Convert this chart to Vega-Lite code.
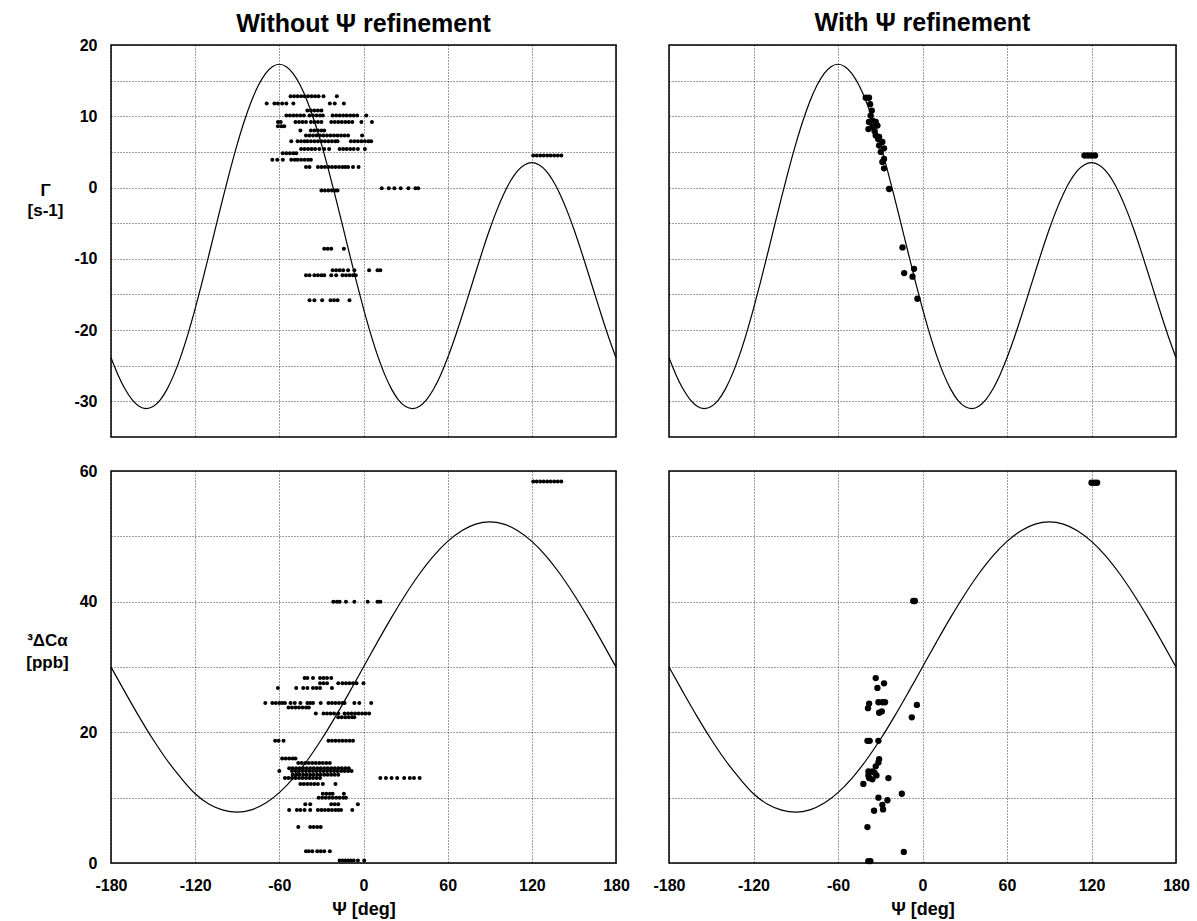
{
 "$schema": "https://vega.github.io/schema/vega-lite/v6.json",
 "background": "white",
 "padding": {"left": 25, "top": 10, "right": 5, "bottom": 2},
 "config": {
  "font": "Liberation Sans",
  "view": {"stroke": "black", "strokeWidth": 1.5},
  "axis": {"labelFont": "Liberation Sans", "labelFontWeight": "bold", "labelFontSize": 16, "labelColor": "black", "labelFlush": false, "labelOverlap": false, "gridColor": "black", "gridDash": [1, 2], "gridWidth": 1, "gridOpacity": 0.75, "domain": false, "ticks": false, "titleFont": "Liberation Sans", "titleFontWeight": "bold", "titleFontSize": 17, "titleColor": "black"},
  "title": {"font": "Liberation Sans", "fontSize": 25, "fontWeight": "bold", "color": "black", "anchor": "middle", "offset": 9}
 },
 "datasets": {
  "curveG": [
   {"psi": -180, "v": -23.89}, {"psi": -175, "v": -26.29}, {"psi": -170, "v": -28.27}, {"psi": -165, "v": -29.75}, {"psi": -160, "v": -30.68}, {"psi": -155, "v": -31.01}, {"psi": -150, "v": -30.72}, {"psi": -145, "v": -29.81}, {"psi": -140, "v": -28.28}, {"psi": -135, "v": -26.18}, {"psi": -130, "v": -23.55}, {"psi": -125, "v": -20.46}, {"psi": -120, "v": -16.99}, {"psi": -115, "v": -13.24}, {"psi": -110, "v": -9.29}, {"psi": -105, "v": -5.28}, {"psi": -100, "v": -1.3}, {"psi": -95, "v": 2.52}, {"psi": -90, "v": 6.1}, {"psi": -85, "v": 9.31}, {"psi": -80, "v": 12.07}, {"psi": -75, "v": 14.31}, {"psi": -70, "v": 15.96}, {"psi": -65, "v": 16.96}, {"psi": -60, "v": 17.3}, {"psi": -55, "v": 16.96}, {"psi": -50, "v": 15.96}, {"psi": -45, "v": 14.31}, {"psi": -40, "v": 12.07}, {"psi": -35, "v": 9.31}, {"psi": -30, "v": 6.1}, {"psi": -25, "v": 2.52}, {"psi": -20, "v": -1.3}, {"psi": -15, "v": -5.28}, {"psi": -10, "v": -9.29}, {"psi": -5, "v": -13.24}, {"psi": 0, "v": -16.99}, {"psi": 5, "v": -20.46}, {"psi": 10, "v": -23.55}, {"psi": 15, "v": -26.18}, {"psi": 20, "v": -28.28}, {"psi": 25, "v": -29.81}, {"psi": 30, "v": -30.72}, {"psi": 35, "v": -31.01}, {"psi": 40, "v": -30.68}, {"psi": 45, "v": -29.75}, {"psi": 50, "v": -28.27}, {"psi": 55, "v": -26.29}, {"psi": 60, "v": -23.89}, {"psi": 65, "v": -21.15}, {"psi": 70, "v": -18.17}, {"psi": 75, "v": -15.04}, {"psi": 80, "v": -11.88}, {"psi": 85, "v": -8.78}, {"psi": 90, "v": -5.86}, {"psi": 95, "v": -3.2}, {"psi": 100, "v": -0.89}, {"psi": 105, "v": 0.98}, {"psi": 110, "v": 2.37}, {"psi": 115, "v": 3.21}, {"psi": 120, "v": 3.5}, {"psi": 125, "v": 3.21}, {"psi": 130, "v": 2.37}, {"psi": 135, "v": 0.98}, {"psi": 140, "v": -0.89}, {"psi": 145, "v": -3.2}, {"psi": 150, "v": -5.86}, {"psi": 155, "v": -8.78}, {"psi": 160, "v": -11.88}, {"psi": 165, "v": -15.04}, {"psi": 170, "v": -18.17}, {"psi": 175, "v": -21.15}, {"psi": 180, "v": -23.89}
  ],
  "curveC": [
   {"psi": -180, "v": 30}, {"psi": -170, "v": 26.15}, {"psi": -160, "v": 22.41}, {"psi": -150, "v": 18.9}, {"psi": -140, "v": 15.73}, {"psi": -130, "v": 12.99}, {"psi": -120, "v": 10.6}, {"psi": -110, "v": 9.0}, {"psi": -100, "v": 8.1}, {"psi": -90, "v": 7.8}, {"psi": -80, "v": 8.14}, {"psi": -70, "v": 9.14}, {"psi": -60, "v": 10.77}, {"psi": -50, "v": 12.99}, {"psi": -40, "v": 15.73}, {"psi": -30, "v": 18.9}, {"psi": -20, "v": 22.41}, {"psi": -10, "v": 26.15}, {"psi": 0, "v": 30}, {"psi": 10, "v": 33.85}, {"psi": 20, "v": 37.59}, {"psi": 30, "v": 41.1}, {"psi": 40, "v": 44.27}, {"psi": 50, "v": 47.01}, {"psi": 60, "v": 49.23}, {"psi": 70, "v": 50.86}, {"psi": 80, "v": 51.86}, {"psi": 90, "v": 52.2}, {"psi": 100, "v": 51.86}, {"psi": 110, "v": 50.86}, {"psi": 120, "v": 49.23}, {"psi": 130, "v": 47.01}, {"psi": 140, "v": 44.27}, {"psi": 150, "v": 41.1}, {"psi": 160, "v": 37.59}, {"psi": 170, "v": 33.85}, {"psi": 180, "v": 30}
  ],
  "pts": [
   {"p": "TL", "psi": -52, "v": 12.8}, {"p": "TL", "psi": -49.5, "v": 12.8}, {"p": "TL", "psi": -47, "v": 12.8}, {"p": "TL", "psi": -44.5, "v": 12.8}, {"p": "TL", "psi": -42, "v": 12.8}, {"p": "TL", "psi": -39.5, "v": 12.8}, {"p": "TL", "psi": -37, "v": 12.8}, {"p": "TL", "psi": -34.5, "v": 12.8}, {"p": "TL", "psi": -32, "v": 12.8}, {"p": "TL", "psi": -28.5, "v": 12.8}, {"p": "TL", "psi": -19, "v": 12.8},
   {"p": "TL", "psi": -69, "v": 11.8}, {"p": "TL", "psi": -63.5, "v": 11.8}, {"p": "TL", "psi": -61, "v": 11.8}, {"p": "TL", "psi": -58, "v": 11.8}, {"p": "TL", "psi": -55, "v": 11.8}, {"p": "TL", "psi": -50, "v": 11.8}, {"p": "TL", "psi": -24, "v": 11.8}, {"p": "TL", "psi": -20.5, "v": 11.8}, {"p": "TL", "psi": -14, "v": 11.8},
   {"p": "TL", "psi": -40, "v": 10.8}, {"p": "TL", "psi": -37.5, "v": 10.8}, {"p": "TL", "psi": -35, "v": 10.8}, {"p": "TL", "psi": -32.5, "v": 10.8}, {"p": "TL", "psi": -30, "v": 10.8},
   {"p": "TL", "psi": -55, "v": 10.1}, {"p": "TL", "psi": -52.5, "v": 10.1}, {"p": "TL", "psi": -50, "v": 10.1}, {"p": "TL", "psi": -47.5, "v": 10.1}, {"p": "TL", "psi": -45, "v": 10.1}, {"p": "TL", "psi": -42.5, "v": 10.1}, {"p": "TL", "psi": -38.5, "v": 10.1}, {"p": "TL", "psi": -36, "v": 10.1}, {"p": "TL", "psi": -33.5, "v": 10.1}, {"p": "TL", "psi": -31, "v": 10.1}, {"p": "TL", "psi": -29, "v": 10.1}, {"p": "TL", "psi": -22, "v": 10.1}, {"p": "TL", "psi": -19.5, "v": 10.1}, {"p": "TL", "psi": -17, "v": 10.1}, {"p": "TL", "psi": -14.5, "v": 10.1}, {"p": "TL", "psi": -12, "v": 10.1}, {"p": "TL", "psi": -9.5, "v": 10.1}, {"p": "TL", "psi": -7, "v": 10.1}, {"p": "TL", "psi": -4.5, "v": 10.1}, {"p": "TL", "psi": 2, "v": 10.1},
   {"p": "TL", "psi": -61, "v": 9.2}, {"p": "TL", "psi": -59, "v": 9.2}, {"p": "TL", "psi": -48.5, "v": 9.2}, {"p": "TL", "psi": -46, "v": 9.2}, {"p": "TL", "psi": -43.5, "v": 9.2}, {"p": "TL", "psi": -41, "v": 9.2}, {"p": "TL", "psi": -37.5, "v": 9.2}, {"p": "TL", "psi": -35, "v": 9.2}, {"p": "TL", "psi": -32.5, "v": 9.2}, {"p": "TL", "psi": -30, "v": 9.2}, {"p": "TL", "psi": -23, "v": 9.2}, {"p": "TL", "psi": -20.5, "v": 9.2}, {"p": "TL", "psi": -18, "v": 9.2}, {"p": "TL", "psi": -15.5, "v": 9.2}, {"p": "TL", "psi": -13, "v": 9.2}, {"p": "TL", "psi": -10.5, "v": 9.2}, {"p": "TL", "psi": -8, "v": 9.2}, {"p": "TL", "psi": -1.5, "v": 9.2}, {"p": "TL", "psi": 6, "v": 9.2},
   {"p": "TL", "psi": -61, "v": 8.6}, {"p": "TL", "psi": -58.5, "v": 8.6}, {"p": "TL", "psi": -56.5, "v": 8.6},
   {"p": "TL", "psi": -45, "v": 8.0}, {"p": "TL", "psi": -37.5, "v": 8.0}, {"p": "TL", "psi": -35, "v": 8.0}, {"p": "TL", "psi": -32.5, "v": 8.0}, {"p": "TL", "psi": -30, "v": 8.0}, {"p": "TL", "psi": -28, "v": 8.0},
   {"p": "TL", "psi": -41, "v": 7.3}, {"p": "TL", "psi": -38.5, "v": 7.3}, {"p": "TL", "psi": -36, "v": 7.3}, {"p": "TL", "psi": -33.5, "v": 7.3}, {"p": "TL", "psi": -31, "v": 7.3}, {"p": "TL", "psi": -28.5, "v": 7.3}, {"p": "TL", "psi": -26, "v": 7.3}, {"p": "TL", "psi": -23.5, "v": 7.3}, {"p": "TL", "psi": -21, "v": 7.3}, {"p": "TL", "psi": -18.5, "v": 7.3}, {"p": "TL", "psi": -16, "v": 7.3}, {"p": "TL", "psi": -13.5, "v": 7.3}, {"p": "TL", "psi": -11, "v": 7.3}, {"p": "TL", "psi": -1, "v": 7.3},
   {"p": "TL", "psi": -51.5, "v": 6.5}, {"p": "TL", "psi": -47, "v": 6.5}, {"p": "TL", "psi": -44.5, "v": 6.5}, {"p": "TL", "psi": -42, "v": 6.5}, {"p": "TL", "psi": -40, "v": 6.5}, {"p": "TL", "psi": -37.5, "v": 6.5}, {"p": "TL", "psi": -35, "v": 6.5}, {"p": "TL", "psi": -32.5, "v": 6.5}, {"p": "TL", "psi": -30, "v": 6.5}, {"p": "TL", "psi": -27.5, "v": 6.5}, {"p": "TL", "psi": -25, "v": 6.5}, {"p": "TL", "psi": -22.5, "v": 6.5}, {"p": "TL", "psi": -20, "v": 6.5}, {"p": "TL", "psi": -18.5, "v": 6.5}, {"p": "TL", "psi": -9, "v": 6.5}, {"p": "TL", "psi": -6.5, "v": 6.5}, {"p": "TL", "psi": -4, "v": 6.5}, {"p": "TL", "psi": -1.5, "v": 6.5}, {"p": "TL", "psi": 1, "v": 6.5}, {"p": "TL", "psi": 3.5, "v": 6.5}, {"p": "TL", "psi": 5.5, "v": 6.5},
   {"p": "TL", "psi": -44.5, "v": 5.4}, {"p": "TL", "psi": -42, "v": 5.4}, {"p": "TL", "psi": -39.5, "v": 5.4}, {"p": "TL", "psi": -37, "v": 5.4}, {"p": "TL", "psi": -34.5, "v": 5.4}, {"p": "TL", "psi": -31.5, "v": 5.4}, {"p": "TL", "psi": -28, "v": 5.4}, {"p": "TL", "psi": -24.5, "v": 5.4}, {"p": "TL", "psi": -17, "v": 5.4}, {"p": "TL", "psi": -14.5, "v": 5.4}, {"p": "TL", "psi": -12, "v": 5.4}, {"p": "TL", "psi": -9.5, "v": 5.4}, {"p": "TL", "psi": -7, "v": 5.4}, {"p": "TL", "psi": -4, "v": 5.4}, {"p": "TL", "psi": 1, "v": 5.4},
   {"p": "TL", "psi": -57.5, "v": 4.8}, {"p": "TL", "psi": -55, "v": 4.8}, {"p": "TL", "psi": -52.5, "v": 4.8}, {"p": "TL", "psi": -50, "v": 4.8}, {"p": "TL", "psi": -48, "v": 4.8},
   {"p": "TL", "psi": -65, "v": 3.9}, {"p": "TL", "psi": -61.5, "v": 3.9}, {"p": "TL", "psi": -57.5, "v": 3.9}, {"p": "TL", "psi": -51.5, "v": 3.9}, {"p": "TL", "psi": -49, "v": 3.9}, {"p": "TL", "psi": -47, "v": 3.9}, {"p": "TL", "psi": -44.5, "v": 3.9}, {"p": "TL", "psi": -42, "v": 3.9}, {"p": "TL", "psi": -39.5, "v": 3.9}, {"p": "TL", "psi": -37.5, "v": 3.9},
   {"p": "TL", "psi": -41, "v": 2.9}, {"p": "TL", "psi": -38.5, "v": 2.9}, {"p": "TL", "psi": -32.5, "v": 2.9}, {"p": "TL", "psi": -30, "v": 2.9}, {"p": "TL", "psi": -27.5, "v": 2.9}, {"p": "TL", "psi": -25, "v": 2.9}, {"p": "TL", "psi": -22.5, "v": 2.9}, {"p": "TL", "psi": -20, "v": 2.9}, {"p": "TL", "psi": -17.5, "v": 2.9}, {"p": "TL", "psi": -15, "v": 2.9}, {"p": "TL", "psi": -13, "v": 2.9}, {"p": "TL", "psi": -11, "v": 2.9}, {"p": "TL", "psi": -7.5, "v": 2.9}, {"p": "TL", "psi": -3.5, "v": 2.9},
   {"p": "TL", "psi": -30, "v": -0.4}, {"p": "TL", "psi": -27.5, "v": -0.4}, {"p": "TL", "psi": -25, "v": -0.4}, {"p": "TL", "psi": -22.5, "v": -0.4}, {"p": "TL", "psi": -20, "v": -0.4}, {"p": "TL", "psi": -18.5, "v": -0.4},
   {"p": "TL", "psi": 13, "v": -0.1}, {"p": "TL", "psi": 18, "v": -0.1}, {"p": "TL", "psi": 22, "v": -0.1}, {"p": "TL", "psi": 26.5, "v": -0.1}, {"p": "TL", "psi": 32, "v": -0.1}, {"p": "TL", "psi": 37, "v": -0.1}, {"p": "TL", "psi": 39, "v": -0.1},
   {"p": "TL", "psi": 121, "v": 4.5}, {"p": "TL", "psi": 123.5, "v": 4.5}, {"p": "TL", "psi": 126, "v": 4.5}, {"p": "TL", "psi": 128.5, "v": 4.5}, {"p": "TL", "psi": 131, "v": 4.5}, {"p": "TL", "psi": 133.5, "v": 4.5}, {"p": "TL", "psi": 136, "v": 4.5}, {"p": "TL", "psi": 138.5, "v": 4.5}, {"p": "TL", "psi": 141, "v": 4.5},
   {"p": "TL", "psi": -28, "v": -8.6}, {"p": "TL", "psi": -25.5, "v": -8.6}, {"p": "TL", "psi": -23, "v": -8.6}, {"p": "TL", "psi": -14, "v": -8.6},
   {"p": "TL", "psi": -22, "v": -11.6}, {"p": "TL", "psi": -19.5, "v": -11.6}, {"p": "TL", "psi": -17, "v": -11.6}, {"p": "TL", "psi": -14.5, "v": -11.6}, {"p": "TL", "psi": -11, "v": -11.6}, {"p": "TL", "psi": -6.5, "v": -11.6}, {"p": "TL", "psi": 4, "v": -11.6}, {"p": "TL", "psi": 10, "v": -11.6}, {"p": "TL", "psi": 12, "v": -11.6},
   {"p": "TL", "psi": -41, "v": -12.3}, {"p": "TL", "psi": -38.5, "v": -12.3}, {"p": "TL", "psi": -35, "v": -12.3}, {"p": "TL", "psi": -32.5, "v": -12.3}, {"p": "TL", "psi": -30, "v": -12.3}, {"p": "TL", "psi": -28, "v": -12.3}, {"p": "TL", "psi": -23, "v": -12.3}, {"p": "TL", "psi": -19.5, "v": -12.3}, {"p": "TL", "psi": -15, "v": -12.3}, {"p": "TL", "psi": -12.5, "v": -12.3}, {"p": "TL", "psi": -10, "v": -12.3}, {"p": "TL", "psi": -7.5, "v": -12.3}, {"p": "TL", "psi": -5.5, "v": -12.3},
   {"p": "TL", "psi": -38.5, "v": -15.8}, {"p": "TL", "psi": -35, "v": -15.8}, {"p": "TL", "psi": -29.5, "v": -15.8}, {"p": "TL", "psi": -23.5, "v": -15.8}, {"p": "TL", "psi": -21, "v": -15.8}, {"p": "TL", "psi": -18.5, "v": -15.8}, {"p": "TL", "psi": -10, "v": -15.8},

   {"p": "TR", "psi": -40.3, "v": 12.6}, {"p": "TR", "psi": -38, "v": 12.6}, {"p": "TR", "psi": -37.2, "v": 11.7}, {"p": "TR", "psi": -36, "v": 10.8}, {"p": "TR", "psi": -36.8, "v": 10.1}, {"p": "TR", "psi": -38, "v": 9.2}, {"p": "TR", "psi": -35.5, "v": 9.4}, {"p": "TR", "psi": -33.2, "v": 9.2}, {"p": "TR", "psi": -32, "v": 8.7}, {"p": "TR", "psi": -38.4, "v": 8.2}, {"p": "TR", "psi": -35.6, "v": 8.5}, {"p": "TR", "psi": -34, "v": 7.9}, {"p": "TR", "psi": -33.2, "v": 7.3}, {"p": "TR", "psi": -30.8, "v": 7.1}, {"p": "TR", "psi": -31.5, "v": 6.8}, {"p": "TR", "psi": -28.5, "v": 6.4}, {"p": "TR", "psi": -30.8, "v": 5.9}, {"p": "TR", "psi": -27.3, "v": 5.5}, {"p": "TR", "psi": -29.6, "v": 5.0}, {"p": "TR", "psi": -27.3, "v": 4.0}, {"p": "TR", "psi": -28.5, "v": 3.6}, {"p": "TR", "psi": -27.3, "v": 2.7}, {"p": "TR", "psi": -23.7, "v": -0.2}, {"p": "TR", "psi": -14.2, "v": -8.4}, {"p": "TR", "psi": -13, "v": -12}, {"p": "TR", "psi": -6, "v": -11.4}, {"p": "TR", "psi": -7.1, "v": -12.5}, {"p": "TR", "psi": -3.6, "v": -15.6}, {"p": "TR", "psi": 115, "v": 4.5}, {"p": "TR", "psi": 117.5, "v": 4.5}, {"p": "TR", "psi": 120, "v": 4.5}, {"p": "TR", "psi": 122.5, "v": 4.5},

   {"p": "BL", "psi": -21.5, "v": 40}, {"p": "BL", "psi": -19, "v": 40}, {"p": "BL", "psi": -17, "v": 40}, {"p": "BL", "psi": -12.5, "v": 40}, {"p": "BL", "psi": -6.5, "v": 40}, {"p": "BL", "psi": 3, "v": 40}, {"p": "BL", "psi": 10, "v": 40}, {"p": "BL", "psi": 12, "v": 40},
   {"p": "BL", "psi": -42, "v": 28.3}, {"p": "BL", "psi": -40, "v": 28.3}, {"p": "BL", "psi": -36, "v": 28.3}, {"p": "BL", "psi": -31, "v": 28.3}, {"p": "BL", "psi": -28.5, "v": 28.3}, {"p": "BL", "psi": -26, "v": 28.3}, {"p": "BL", "psi": -23, "v": 28.3},
   {"p": "BL", "psi": -31, "v": 27.5}, {"p": "BL", "psi": -28.5, "v": 27.5}, {"p": "BL", "psi": -26, "v": 27.5}, {"p": "BL", "psi": -18, "v": 27.5}, {"p": "BL", "psi": -15, "v": 27.5}, {"p": "BL", "psi": -12.5, "v": 27.5}, {"p": "BL", "psi": -10, "v": 27.5}, {"p": "BL", "psi": -7.5, "v": 27.5}, {"p": "BL", "psi": -5, "v": 27.5}, {"p": "BL", "psi": 0, "v": 27.5},
   {"p": "BL", "psi": -61, "v": 26.8}, {"p": "BL", "psi": -48, "v": 26.8}, {"p": "BL", "psi": -43, "v": 26.8}, {"p": "BL", "psi": -40, "v": 26.8}, {"p": "BL", "psi": -36, "v": 26.8}, {"p": "BL", "psi": -33.5, "v": 26.8}, {"p": "BL", "psi": -31, "v": 26.8}, {"p": "BL", "psi": -22.5, "v": 26.8},
   {"p": "BL", "psi": -70, "v": 24.5}, {"p": "BL", "psi": -65, "v": 24.5}, {"p": "BL", "psi": -62.5, "v": 24.5}, {"p": "BL", "psi": -60, "v": 24.5}, {"p": "BL", "psi": -58, "v": 24.5}, {"p": "BL", "psi": -56, "v": 24.5}, {"p": "BL", "psi": -52, "v": 24.5}, {"p": "BL", "psi": -49, "v": 24.5}, {"p": "BL", "psi": -45, "v": 24.5}, {"p": "BL", "psi": -40, "v": 24.5}, {"p": "BL", "psi": -38, "v": 24.5}, {"p": "BL", "psi": -36, "v": 24.5}, {"p": "BL", "psi": -30.5, "v": 24.5}, {"p": "BL", "psi": -25, "v": 24.5}, {"p": "BL", "psi": -22.5, "v": 24.5}, {"p": "BL", "psi": -20, "v": 24.5}, {"p": "BL", "psi": -17.5, "v": 24.5}, {"p": "BL", "psi": -15, "v": 24.5}, {"p": "BL", "psi": -13.5, "v": 24.5}, {"p": "BL", "psi": -6.5, "v": 24.5}, {"p": "BL", "psi": -3, "v": 24.5}, {"p": "BL", "psi": 5.5, "v": 24.5},
   {"p": "BL", "psi": -53.5, "v": 23.8}, {"p": "BL", "psi": -51, "v": 23.8}, {"p": "BL", "psi": -48.5, "v": 23.8}, {"p": "BL", "psi": -46, "v": 23.8}, {"p": "BL", "psi": -43.5, "v": 23.8}, {"p": "BL", "psi": -41, "v": 23.8}, {"p": "BL", "psi": -39, "v": 23.8},
   {"p": "BL", "psi": -34, "v": 22.9}, {"p": "BL", "psi": -28.5, "v": 22.9}, {"p": "BL", "psi": -26, "v": 22.9}, {"p": "BL", "psi": -23.5, "v": 22.9}, {"p": "BL", "psi": -21, "v": 22.9}, {"p": "BL", "psi": -18, "v": 22.9}, {"p": "BL", "psi": -13.5, "v": 22.9}, {"p": "BL", "psi": -11, "v": 22.9}, {"p": "BL", "psi": -8.5, "v": 22.9}, {"p": "BL", "psi": -6, "v": 22.9}, {"p": "BL", "psi": -3.5, "v": 22.9}, {"p": "BL", "psi": -1, "v": 22.9}, {"p": "BL", "psi": 1.5, "v": 22.9}, {"p": "BL", "psi": 4, "v": 22.9},
   {"p": "BL", "psi": -18, "v": 22.3}, {"p": "BL", "psi": -15.5, "v": 22.3}, {"p": "BL", "psi": -13, "v": 22.3}, {"p": "BL", "psi": -10.5, "v": 22.3}, {"p": "BL", "psi": -8, "v": 22.3}, {"p": "BL", "psi": -6.5, "v": 22.3},
   {"p": "BL", "psi": -63, "v": 18.7}, {"p": "BL", "psi": -60.5, "v": 18.7}, {"p": "BL", "psi": -57, "v": 18.7}, {"p": "BL", "psi": -25, "v": 18.7}, {"p": "BL", "psi": -22.5, "v": 18.7}, {"p": "BL", "psi": -20, "v": 18.7}, {"p": "BL", "psi": -17.5, "v": 18.7}, {"p": "BL", "psi": -15, "v": 18.7}, {"p": "BL", "psi": -12.5, "v": 18.7}, {"p": "BL", "psi": -10, "v": 18.7}, {"p": "BL", "psi": -7.5, "v": 18.7},
   {"p": "BL", "psi": -58, "v": 16}, {"p": "BL", "psi": -55.5, "v": 16}, {"p": "BL", "psi": -53, "v": 16}, {"p": "BL", "psi": -50.5, "v": 16}, {"p": "BL", "psi": -48.5, "v": 16},
   {"p": "BL", "psi": -46.5, "v": 15.3}, {"p": "BL", "psi": -44, "v": 15.3}, {"p": "BL", "psi": -41.5, "v": 15.3}, {"p": "BL", "psi": -39, "v": 15.3}, {"p": "BL", "psi": -36.5, "v": 15.3}, {"p": "BL", "psi": -34, "v": 15.3}, {"p": "BL", "psi": -31.5, "v": 15.3}, {"p": "BL", "psi": -29, "v": 15.3}, {"p": "BL", "psi": -26.5, "v": 15.3}, {"p": "BL", "psi": -24, "v": 15.3},
   {"p": "BL", "psi": -53, "v": 14.5}, {"p": "BL", "psi": -50.5, "v": 14.5}, {"p": "BL", "psi": -48, "v": 14.5}, {"p": "BL", "psi": -45.5, "v": 14.5}, {"p": "BL", "psi": -43, "v": 14.5}, {"p": "BL", "psi": -40.5, "v": 14.5}, {"p": "BL", "psi": -38, "v": 14.5}, {"p": "BL", "psi": -35.5, "v": 14.5}, {"p": "BL", "psi": -33, "v": 14.5}, {"p": "BL", "psi": -30.5, "v": 14.5}, {"p": "BL", "psi": -28, "v": 14.5}, {"p": "BL", "psi": -25.5, "v": 14.5}, {"p": "BL", "psi": -23, "v": 14.5}, {"p": "BL", "psi": -20.5, "v": 14.5}, {"p": "BL", "psi": -18, "v": 14.5}, {"p": "BL", "psi": -15.5, "v": 14.5}, {"p": "BL", "psi": -13, "v": 14.5}, {"p": "BL", "psi": -10.5, "v": 14.5},
   {"p": "BL", "psi": -60, "v": 14.1}, {"p": "BL", "psi": -51, "v": 14.1}, {"p": "BL", "psi": -48.5, "v": 14.1}, {"p": "BL", "psi": -46, "v": 14.1}, {"p": "BL", "psi": -43.5, "v": 14.1}, {"p": "BL", "psi": -41, "v": 14.1}, {"p": "BL", "psi": -38.5, "v": 14.1}, {"p": "BL", "psi": -36, "v": 14.1}, {"p": "BL", "psi": -33.5, "v": 14.1}, {"p": "BL", "psi": -31, "v": 14.1}, {"p": "BL", "psi": -28.5, "v": 14.1}, {"p": "BL", "psi": -26, "v": 14.1}, {"p": "BL", "psi": -23.5, "v": 14.1}, {"p": "BL", "psi": -21, "v": 14.1}, {"p": "BL", "psi": -18.5, "v": 14.1}, {"p": "BL", "psi": -16, "v": 14.1}, {"p": "BL", "psi": -13.5, "v": 14.1}, {"p": "BL", "psi": -11, "v": 14.1}, {"p": "BL", "psi": -8.5, "v": 14.1},
   {"p": "BL", "psi": -50.5, "v": 13.5}, {"p": "BL", "psi": -48, "v": 13.5}, {"p": "BL", "psi": -45.5, "v": 13.5}, {"p": "BL", "psi": -43, "v": 13.5}, {"p": "BL", "psi": -40.5, "v": 13.5}, {"p": "BL", "psi": -38, "v": 13.5}, {"p": "BL", "psi": -35.5, "v": 13.5}, {"p": "BL", "psi": -33, "v": 13.5}, {"p": "BL", "psi": -30.5, "v": 13.5}, {"p": "BL", "psi": -28, "v": 13.5}, {"p": "BL", "psi": -25.5, "v": 13.5}, {"p": "BL", "psi": -23, "v": 13.5}, {"p": "BL", "psi": -20.5, "v": 13.5}, {"p": "BL", "psi": -18, "v": 13.5},
   {"p": "BL", "psi": -56, "v": 13}, {"p": "BL", "psi": -53.5, "v": 13}, {"p": "BL", "psi": -51, "v": 13}, {"p": "BL", "psi": -48.5, "v": 13}, {"p": "BL", "psi": -46, "v": 13}, {"p": "BL", "psi": -43.5, "v": 13}, {"p": "BL", "psi": -41, "v": 13}, {"p": "BL", "psi": -38.5, "v": 13}, {"p": "BL", "psi": -36, "v": 13}, {"p": "BL", "psi": -33.5, "v": 13}, {"p": "BL", "psi": -31, "v": 13},
   {"p": "BL", "psi": 12, "v": 13}, {"p": "BL", "psi": 16, "v": 13}, {"p": "BL", "psi": 20, "v": 13}, {"p": "BL", "psi": 24, "v": 13}, {"p": "BL", "psi": 29, "v": 13}, {"p": "BL", "psi": 33, "v": 13}, {"p": "BL", "psi": 36, "v": 13}, {"p": "BL", "psi": 40, "v": 13},
   {"p": "BL", "psi": -45, "v": 12.1}, {"p": "BL", "psi": -42.5, "v": 12.1}, {"p": "BL", "psi": -40, "v": 12.1}, {"p": "BL", "psi": -37.5, "v": 12.1}, {"p": "BL", "psi": -35, "v": 12.1}, {"p": "BL", "psi": -32.5, "v": 12.1}, {"p": "BL", "psi": -29, "v": 12.1}, {"p": "BL", "psi": -20, "v": 12.1},
   {"p": "BL", "psi": -29, "v": 10.6}, {"p": "BL", "psi": -26.5, "v": 10.6}, {"p": "BL", "psi": -24, "v": 10.6}, {"p": "BL", "psi": -22, "v": 10.6}, {"p": "BL", "psi": -14, "v": 10.6},
   {"p": "BL", "psi": -32, "v": 10.0}, {"p": "BL", "psi": -29.5, "v": 10.0}, {"p": "BL", "psi": -27, "v": 10.0}, {"p": "BL", "psi": -24.5, "v": 10.0}, {"p": "BL", "psi": -22, "v": 10.0}, {"p": "BL", "psi": -19.5, "v": 10.0}, {"p": "BL", "psi": -17, "v": 10.0}, {"p": "BL", "psi": -14.5, "v": 10.0}, {"p": "BL", "psi": -12.5, "v": 10.0},
   {"p": "BL", "psi": -41.5, "v": 9.0}, {"p": "BL", "psi": -38, "v": 9.0}, {"p": "BL", "psi": -23, "v": 9.0}, {"p": "BL", "psi": -20.5, "v": 9.0}, {"p": "BL", "psi": -18, "v": 9.0}, {"p": "BL", "psi": -4, "v": 9.0},
   {"p": "BL", "psi": -53, "v": 8.1}, {"p": "BL", "psi": -47.5, "v": 8.1}, {"p": "BL", "psi": -45, "v": 8.1}, {"p": "BL", "psi": -42, "v": 8.1}, {"p": "BL", "psi": -38, "v": 8.1}, {"p": "BL", "psi": -32.5, "v": 8.1}, {"p": "BL", "psi": -30, "v": 8.1}, {"p": "BL", "psi": -27.5, "v": 8.1}, {"p": "BL", "psi": -25, "v": 8.1}, {"p": "BL", "psi": -22.5, "v": 8.1}, {"p": "BL", "psi": -20, "v": 8.1}, {"p": "BL", "psi": -18, "v": 8.1}, {"p": "BL", "psi": -16, "v": 8.1}, {"p": "BL", "psi": -8, "v": 8.1},
   {"p": "BL", "psi": -46.5, "v": 5.5}, {"p": "BL", "psi": -38, "v": 5.5}, {"p": "BL", "psi": -35.5, "v": 5.5}, {"p": "BL", "psi": -33, "v": 5.5}, {"p": "BL", "psi": -30.5, "v": 5.5},
   {"p": "BL", "psi": -41, "v": 1.8}, {"p": "BL", "psi": -39, "v": 1.8}, {"p": "BL", "psi": -36.5, "v": 1.8}, {"p": "BL", "psi": -33, "v": 1.8}, {"p": "BL", "psi": -30.5, "v": 1.8}, {"p": "BL", "psi": -28, "v": 1.8}, {"p": "BL", "psi": -24, "v": 1.8},
   {"p": "BL", "psi": -17, "v": 0.4}, {"p": "BL", "psi": -15, "v": 0.4}, {"p": "BL", "psi": -13, "v": 0.4}, {"p": "BL", "psi": -11, "v": 0.4}, {"p": "BL", "psi": -9, "v": 0.4}, {"p": "BL", "psi": -7, "v": 0.4}, {"p": "BL", "psi": -4, "v": 0.4}, {"p": "BL", "psi": 0.5, "v": 0.4},
   {"p": "BL", "psi": 121, "v": 58.4}, {"p": "BL", "psi": 123.5, "v": 58.4}, {"p": "BL", "psi": 126, "v": 58.4}, {"p": "BL", "psi": 128.5, "v": 58.4}, {"p": "BL", "psi": 131, "v": 58.4}, {"p": "BL", "psi": 133.5, "v": 58.4}, {"p": "BL", "psi": 136, "v": 58.4}, {"p": "BL", "psi": 138.5, "v": 58.4}, {"p": "BL", "psi": 141, "v": 58.4},

   {"p": "BR", "psi": -6.6, "v": 40.1}, {"p": "BR", "psi": -5.4, "v": 40.1}, {"p": "BR", "psi": -33.2, "v": 28.3}, {"p": "BR", "psi": -27.3, "v": 27.5}, {"p": "BR", "psi": -32, "v": 26.8}, {"p": "BR", "psi": -37.9, "v": 24.4}, {"p": "BR", "psi": -38.7, "v": 23.7}, {"p": "BR", "psi": -31.3, "v": 24.6}, {"p": "BR", "psi": -28.5, "v": 24.6}, {"p": "BR", "psi": -26.6, "v": 24.6}, {"p": "BR", "psi": -30.8, "v": 23}, {"p": "BR", "psi": -28.9, "v": 23.2}, {"p": "BR", "psi": -4, "v": 24.2}, {"p": "BR", "psi": -7.6, "v": 22.3}, {"p": "BR", "psi": -39.1, "v": 18.7}, {"p": "BR", "psi": -37.5, "v": 18.7}, {"p": "BR", "psi": -31.3, "v": 18.7}, {"p": "BR", "psi": -30.8, "v": 15.9}, {"p": "BR", "psi": -31.3, "v": 15.4}, {"p": "BR", "psi": -33.2, "v": 14.8}, {"p": "BR", "psi": -38.4, "v": 14}, {"p": "BR", "psi": -35.6, "v": 14}, {"p": "BR", "psi": -32.7, "v": 13.4}, {"p": "BR", "psi": -37.9, "v": 13}, {"p": "BR", "psi": -35.6, "v": 12.8}, {"p": "BR", "psi": -38.4, "v": 13.4}, {"p": "BR", "psi": -34, "v": 13.8}, {"p": "BR", "psi": -42, "v": 12.1}, {"p": "BR", "psi": -24.2, "v": 13}, {"p": "BR", "psi": -14.7, "v": 10.6}, {"p": "BR", "psi": -31.3, "v": 10}, {"p": "BR", "psi": -24.9, "v": 9.6}, {"p": "BR", "psi": -28.5, "v": 8.9}, {"p": "BR", "psi": -34.4, "v": 8}, {"p": "BR", "psi": -28, "v": 8.2}, {"p": "BR", "psi": -39.1, "v": 5.5}, {"p": "BR", "psi": -13.3, "v": 1.7}, {"p": "BR", "psi": -38.5, "v": 0.3}, {"p": "BR", "psi": -37, "v": 0.3}, {"p": "BR", "psi": 120, "v": 58.2}, {"p": "BR", "psi": 122, "v": 58.2}, {"p": "BR", "psi": 124, "v": 58.2}
  ]
 },
 "columns": 2,
 "spacing": {"row": 34, "column": 53},
 "bounds": "flush",
 "concat": [
  {
   "width": 505, "height": 392,
   "title": {"text": "Without Ψ refinement", "offset": 0},
   "encoding": {
    "x": {"field": "psi", "type": "quantitative", "scale": {"domain": [-180, 180], "nice": false, "zero": false}, "axis": {"values": [-180, -120, -60, 0, 60, 120, 180], "labels": false, "title": null}},
    "y": {"field": "v", "type": "quantitative", "scale": {"domain": [-35, 20], "nice": false, "zero": false}, "axis": {"values": [-30, -25, -20, -15, -10, -5, 0, 5, 10, 15, 20], "labelExpr": "datum.value % 10 === 0 ? '' + datum.value : ''", "labelPadding": 14, "title": ["Γ", "[s-1]"], "titleAngle": 0, "titleAlign": "center", "titleBaseline": "middle", "titleX": -66, "titleY": 145, "titleLineHeight": 20}}
   },
   "layer": [
    {"data": {"name": "curveG"}, "mark": {"type": "line", "color": "black", "strokeWidth": 1.2, "interpolate": "monotone"}},
    {"data": {"name": "pts"}, "transform": [{"filter": "datum.p === 'TL'"}], "mark": {"type": "circle", "color": "black", "size": 16, "opacity": 1}}
   ]
  },
  {
   "width": 507, "height": 392,
   "title": "With Ψ refinement",
   "encoding": {
    "x": {"field": "psi", "type": "quantitative", "scale": {"domain": [-180, 180], "nice": false, "zero": false}, "axis": {"values": [-180, -120, -60, 0, 60, 120, 180], "labels": false, "title": null}},
    "y": {"field": "v", "type": "quantitative", "scale": {"domain": [-35, 20], "nice": false, "zero": false}, "axis": {"values": [-30, -25, -20, -15, -10, -5, 0, 5, 10, 15, 20], "labels": false, "title": null}}
   },
   "layer": [
    {"data": {"name": "curveG"}, "mark": {"type": "line", "color": "black", "strokeWidth": 1.2, "interpolate": "monotone"}},
    {"data": {"name": "pts"}, "transform": [{"filter": "datum.p === 'TR'"}], "mark": {"type": "circle", "color": "black", "size": 40, "opacity": 1}}
   ]
  },
  {
   "width": 505, "height": 392,
   "encoding": {
    "x": {"field": "psi", "type": "quantitative", "scale": {"domain": [-180, 180], "nice": false, "zero": false}, "axis": {"values": [-180, -120, -60, 0, 60, 120, 180], "labelExpr": "'' + datum.value", "labelPadding": 14, "title": "Ψ [deg]", "titleFontSize": 18, "titlePadding": 7}},
    "y": {"field": "v", "type": "quantitative", "scale": {"domain": [0, 60], "nice": false, "zero": false}, "axis": {"values": [0, 10, 20, 30, 40, 50, 60], "labelExpr": "datum.value % 20 === 0 ? '' + datum.value : ''", "labelPadding": 14, "title": ["³ΔCα", "[ppb]"], "titleAngle": 0, "titleAlign": "center", "titleBaseline": "middle", "titleX": -64, "titleY": 169, "titleLineHeight": 22}}
   },
   "layer": [
    {"data": {"name": "curveC"}, "mark": {"type": "line", "color": "black", "strokeWidth": 1.2, "interpolate": "monotone"}},
    {"data": {"name": "pts"}, "transform": [{"filter": "datum.p === 'BL'"}], "mark": {"type": "circle", "color": "black", "size": 16, "opacity": 1}}
   ]
  },
  {
   "width": 507, "height": 392,
   "encoding": {
    "x": {"field": "psi", "type": "quantitative", "scale": {"domain": [-180, 180], "nice": false, "zero": false}, "axis": {"values": [-180, -120, -60, 0, 60, 120, 180], "labelExpr": "'' + datum.value", "labelPadding": 14, "title": "Ψ [deg]", "titleFontSize": 18, "titlePadding": 7}},
    "y": {"field": "v", "type": "quantitative", "scale": {"domain": [0, 60], "nice": false, "zero": false}, "axis": {"values": [0, 10, 20, 30, 40, 50, 60], "labels": false, "title": null}}
   },
   "layer": [
    {"data": {"name": "curveC"}, "mark": {"type": "line", "color": "black", "strokeWidth": 1.2, "interpolate": "monotone"}},
    {"data": {"name": "pts"}, "transform": [{"filter": "datum.p === 'BR'"}], "mark": {"type": "circle", "color": "black", "size": 40, "opacity": 1}}
   ]
  }
 ]
}
